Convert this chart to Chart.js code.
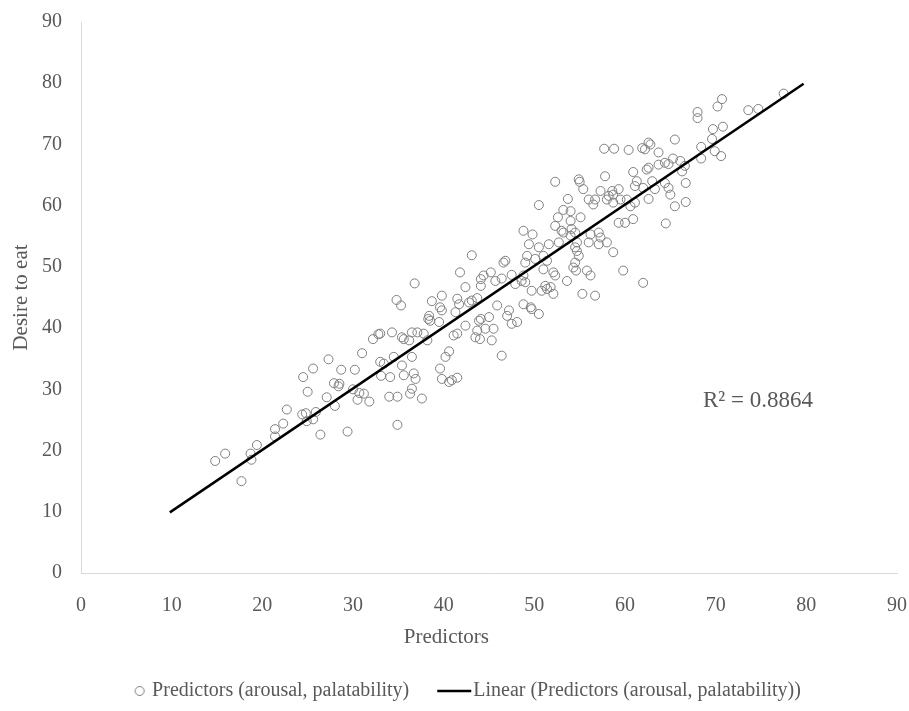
<!DOCTYPE html>
<html>
<head>
<meta charset="utf-8">
<script src="https://cdn.jsdelivr.net/npm/chart.js@4.4.1/dist/chart.umd.min.js"></script>
<style>
  body { margin: 0; background: #fff; }
  canvas { display: block; }
</style>
</head>
<body>
<canvas id="chart" width="909" height="711"></canvas>
<script>
// scatter values (x = predictors, y = desire to eat)
const predictorX = [
  14.8, 15.9, 17.7, 18.7, 18.8, 19.4, 21.4, 21.4, 22.3, 22.7,
  24.4, 24.8, 24.9, 25.6, 25.9, 24.5, 25.6, 25.0, 26.4, 27.1,
  27.3, 28.0, 27.9, 28.5, 28.4, 28.7, 29.4, 30.2, 30.0, 30.7,
  31.2, 30.5, 31.8, 31.0, 32.2, 32.8, 34.9, 33.1,
  41.8, 36.8, 34.8, 35.3, 38.7, 39.8, 39.6, 39.8, 38.4, 38.3,
  38.5, 39.5, 41.5, 41.7, 42.4, 42.8, 43.1, 43.7, 44.1, 44.1,
  44.4, 45.2, 45.7, 46.4, 47.5, 47.9, 41.3, 42.4, 43.9, 44.1,
  45.0, 45.9, 47.2, 47.0, 47.5, 48.1, 43.7, 44.6, 45.5, 44.0,
  43.5, 45.3, 46.4, 34.3, 35.4, 35.6, 36.5, 37.1, 37.8, 36.2,
  38.2, 41.1, 41.5, 40.6, 40.2, 33.0, 33.4, 34.5, 36.5, 35.4,
  35.6, 36.7, 36.9, 34.1, 39.6, 39.8, 40.6, 40.9, 41.5, 36.5,
  36.3, 34.0, 34.9, 37.6, 33.0,
  48.8, 49.8, 49.4, 50.5, 51.6, 52.7, 52.3, 53.0, 53.2, 54.0,
  54.1, 54.0, 54.5, 54.7, 54.5, 54.7, 54.9, 54.5, 54.3, 54.6,
  56.0, 56.2, 57.1, 57.3, 57.1, 58.0, 58.7, 59.8, 59.3, 60.0,
  60.9, 55.8, 56.2, 53.6, 55.3, 56.7, 49.2, 49.0, 50.1, 51.0,
  51.4, 51.0, 52.1, 52.3, 51.2, 51.4, 51.8, 52.1, 50.8, 49.7,
  48.6, 48.8, 49.0, 46.8, 46.6, 48.8, 49.6, 49.7, 50.5,
  57.7, 58.8, 60.4, 61.9, 62.2, 62.8, 62.6, 63.7, 65.5, 57.8,
  60.9, 62.4, 62.6, 63.7, 64.4, 64.8, 65.3, 66.1, 66.6, 66.3,
  55.4, 56.0, 56.7, 56.5, 57.3, 58.2, 58.6, 58.7, 59.3, 58.0,
  58.7, 59.5, 60.2, 60.6, 61.1, 61.1, 61.3, 62.0, 63.0, 63.3,
  62.6, 64.4, 64.8, 65.0, 65.5, 66.7, 66.7, 64.5,
  52.3, 54.9, 55.0, 53.7, 50.5, 53.2, 54.0, 52.6, 55.1, 43.1,
  77.5, 73.6, 74.7, 70.2, 70.7, 68.0, 68.0, 69.7, 70.8, 69.6,
  68.4, 69.9, 70.6, 68.4, 62.0
];
const desireY = [
  18.3, 19.5, 15.0, 19.5, 18.5, 20.9, 23.5, 22.3, 24.4, 26.7,
  25.9, 26.1, 24.8, 25.1, 26.3, 32.0, 33.4, 29.6, 22.6, 28.7,
  34.9, 27.3, 31.0, 30.9, 30.5, 33.2, 23.1, 33.2, 30.0, 29.4,
  29.3, 28.3, 28.0, 35.9, 38.2, 39.0, 24.2, 32.2,
  49.1, 47.3, 44.6, 43.7, 44.4, 45.3, 43.4, 42.9, 42.0, 41.5,
  41.2, 41.0, 44.8, 43.9, 46.7, 44.2, 44.5, 44.9, 46.9, 48.0,
  48.6, 49.1, 47.7, 48.1, 48.7, 47.2, 42.6, 40.4, 41.2, 41.5,
  41.8, 43.7, 42.9, 42.0, 40.7, 41.0, 39.6, 39.9, 39.9, 38.2,
  38.5, 38.0, 35.5, 39.3, 38.5, 38.2, 39.3, 39.3, 39.1, 38.0,
  38.0, 38.8, 39.1, 36.2, 35.3, 34.5, 34.2, 35.3, 35.3, 33.9,
  32.3, 32.6, 31.7, 32.0, 33.4, 31.7, 31.2, 31.5, 31.9, 30.1,
  29.3, 28.8, 28.8, 28.5, 39.1,
  55.9, 55.3, 53.7, 53.2, 53.7, 54.0, 56.7, 55.9, 55.6, 57.5,
  56.2, 55.1, 55.6, 54.0, 53.2, 52.6, 51.8, 50.7, 49.9, 49.4,
  54.0, 55.3, 55.6, 54.8, 53.7, 54.0, 52.4, 49.4, 57.2, 57.2,
  57.8, 49.4, 48.6, 47.7, 45.6, 45.3, 51.8, 50.7, 51.3, 51.8,
  51.0, 49.6, 49.1, 48.6, 46.9, 46.4, 46.7, 45.6, 46.1, 46.1,
  47.7, 48.6, 47.5, 51.0, 50.7, 43.9, 43.4, 43.1, 42.3,
  69.3, 69.3, 69.1, 69.4, 69.2, 70.0, 70.3, 68.7, 70.8, 64.8,
  65.5, 65.9, 66.2, 66.7, 67.0, 66.8, 67.7, 67.3, 66.5, 65.6,
  62.7, 61.0, 61.0, 60.2, 62.4, 61.6, 62.4, 61.8, 62.7, 61.0,
  60.5, 61.0, 61.0, 59.9, 60.5, 63.2, 64.0, 62.9, 64.0, 62.7,
  61.1, 63.7, 62.9, 61.8, 59.9, 63.7, 60.6, 57.1,
  63.9, 64.3, 63.9, 61.1, 60.1, 59.3, 59.1, 58.1, 58.1, 51.9,
  78.3, 75.6, 75.8, 76.2, 77.4, 75.3, 74.3, 72.5, 72.9, 70.9,
  69.6, 68.9, 68.1, 67.7, 47.4
];

// linear trendline end points
const trendX = [9.8, 79.7];
const trendY = [9.9, 79.9];

const axisTicks = [0, 10, 20, 30, 40, 50, 60, 70, 80, 90];
const seriesNames = ['Predictors (arousal, palatability)', 'Linear (Predictors (arousal, palatability))'];
const xTitle = 'Predictors';
const r2Text = 'R\u00B2 = 0.8864';
const r2At = { x: 68.6, y: 27.1 };
const xTitleAt = 40.3;

const FONT = 'Liberation Serif';
const TEXT = '#595959';
const AXIS = '#d9d9d9';

const scatterPts = predictorX.map((x, i) => ({ x: x, y: desireY[i] }));
const trendPts = trendX.map((x, i) => ({ x: x, y: trendY[i] }));

// legend markers drawn on small canvases so the circle and line sit like in Excel
function marker(w, h, draw) {
  const c = document.createElement('canvas');
  c.width = w;
  c.height = h;
  draw(c.getContext('2d'));
  return c;
}
const circleMark = marker(53, 14, ctx => {
  ctx.strokeStyle = '#7f7f7f';
  ctx.lineWidth = 1;
  ctx.beginPath();
  ctx.arc(47, 7, 4.5, 0, Math.PI * 2);
  ctx.stroke();
});
const lineMark = marker(66, 6, ctx => {
  ctx.strokeStyle = '#000';
  ctx.lineWidth = 2.5;
  ctx.beginPath();
  ctx.moveTo(30, 3);
  ctx.lineTo(64, 3);
  ctx.stroke();
});

// R² note and the x axis title (the title sits left of centre in the original)
const extraText = {
  id: 'extraText',
  afterDatasetsDraw(chart) {
    const ctx = chart.ctx;
    const xs = chart.scales.x, ys = chart.scales.y;
    ctx.save();
    ctx.fillStyle = TEXT;
    ctx.textBaseline = 'alphabetic';
    ctx.textAlign = 'left';
    ctx.font = '23px "' + FONT + '"';
    ctx.fillText(r2Text, xs.getPixelForValue(r2At.x), ys.getPixelForValue(r2At.y));
    ctx.textAlign = 'center';
    ctx.textBaseline = 'middle';
    ctx.font = '21px "' + FONT + '"';
    ctx.fillText(xTitle, xs.getPixelForValue(xTitleAt), 637);
    ctx.restore();
  }
};

function setTicks(scale) {
  scale.ticks = axisTicks.map(v => ({ value: v }));
}

new Chart(document.getElementById('chart'), {
  type: 'scatter',
  data: {
    datasets: [
      {
        label: seriesNames[0],
        data: scatterPts,
        pointRadius: 4.5,
        pointHoverRadius: 4.5,
        pointBorderWidth: 1,
        borderColor: '#7f7f7f',
        backgroundColor: 'rgba(0,0,0,0)',
        order: 2
      },
      {
        type: 'line',
        label: seriesNames[1],
        data: trendPts,
        showLine: true,
        borderColor: '#000',
        borderWidth: 2.5,
        pointRadius: 0,
        fill: false,
        order: 1
      }
    ]
  },
  options: {
    responsive: false,
    animation: false,
    layout: { padding: { top: 22, right: 12, left: 0, bottom: 0 } },
    scales: {
      x: {
        type: 'linear',
        min: 0,
        max: 90,
        afterBuildTicks: setTicks,
        afterFit: s => {
          s.height = 711 - 573 - s.chart.legend.height;
          s.paddingLeft = 0;
          s.paddingRight = 0;
        },
        grid: { display: false, drawTicks: false },
        border: { display: true, color: AXIS, width: 1 },
        ticks: { font: { family: FONT, size: 20 }, color: TEXT, padding: 21 }
      },
      y: {
        type: 'linear',
        min: 0,
        max: 90,
        afterBuildTicks: setTicks,
        afterFit: s => {
          s.width = 81;
          s.paddingTop = 0;
          s.paddingBottom = 0;
        },
        grid: { display: false, drawTicks: false },
        border: { display: true, color: AXIS, width: 1 },
        ticks: { font: { family: FONT, size: 20 }, color: TEXT, padding: 19 },
        title: {
          display: true,
          text: 'Desire to eat',
          font: { family: FONT, size: 21 },
          color: TEXT,
          padding: { top: 9, bottom: 0 }
        }
      }
    },
    plugins: {
      tooltip: { enabled: false },
      legend: {
        position: 'bottom',
        labels: {
          usePointStyle: true,
          pointStyleWidth: 46,
          padding: 8,
          color: TEXT,
          font: { family: FONT, size: 20 },
          generateLabels: () => [
            { text: seriesNames[0], pointStyle: circleMark, fontColor: TEXT, datasetIndex: 0, hidden: false, lineWidth: 0 },
            { text: seriesNames[1], pointStyle: lineMark, fontColor: TEXT, datasetIndex: 1, hidden: false, lineWidth: 0 }
          ]
        }
      }
    }
  },
  plugins: [extraText]
});
</script>
</body>
</html>
